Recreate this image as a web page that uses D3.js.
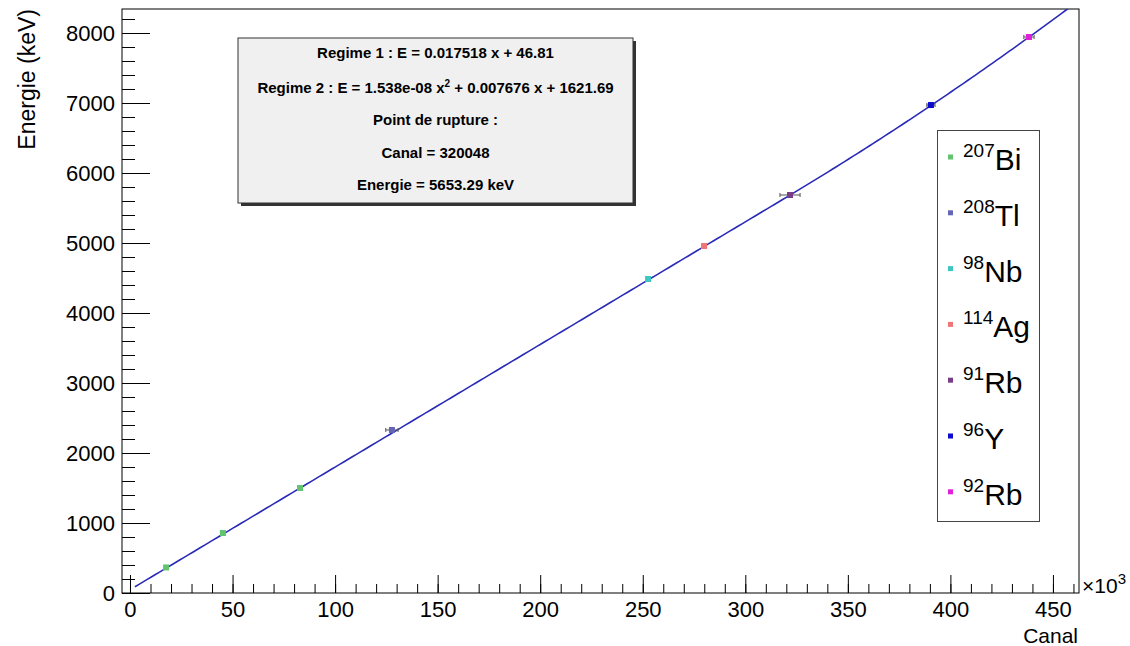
<!DOCTYPE html>
<html>
<head>
<meta charset="utf-8">
<script src="https://cdn.jsdelivr.net/npm/d3@7"></script>
<style>
  body { margin: 0; background: #fff; }
  svg { display: block; font-family: "Liberation Sans", Arial, sans-serif; }
</style>
</head>
<body>
<svg width="1130" height="646"></svg>
<script>
// isotopes, canal (x1000) and energy (keV)
var isotopes = ["207", "208", "98", "114", "91", "96", "92"];
var elements = ["Bi", "Tl", "Nb", "Ag", "Rb", "Y", "Rb"];
var colors = ["#62c46e", "#6565b8", "#3ec6c2", "#f07676", "#7a3e88", "#0a0ad0", "#e020dc"];
var pointIso = [0, 0, 0, 1, 2, 3, 4, 5, 6];
var canal = [17.6, 45.3, 82.9, 127.7, 252.6, 279.9, 321.8, 390.5, 438.3];
var energy = [365, 857, 1500, 2329, 4486, 4957, 5686, 6971, 7943];
var canalErr = [0.8, 0.8, 0.8, 3.0, 1.0, 1.2, 4.9, 2.0, 2.5];

// fit coefficients shown in the box
var regime1 = [0.017518, 46.81];
var regime2 = [1.538e-08, 0.007676, 1621.69];
var rupture = [320048, 5653.29];

var xTicks = d3.range(0, 451, 50);
var yTicks = d3.range(0, 8001, 1000);

var svg = d3.select("svg"),
  plotL = 122,
  plotR = 1079,
  plotT = 9,
  plotB = 593;

var x = d3.scaleLinear().domain([-3.9, 462.7]).range([plotL, plotR]),
  y = d3.scaleLinear().domain([0, 8343]).range([plotB, plotT]);

svg.append("defs").append("clipPath").attr("id", "plot")
  .append("rect")
  .attr("x", plotL).attr("y", plotT)
  .attr("width", plotR - plotL).attr("height", plotB - plotT);

// minor ticks
svg.append("g")
  .attr("transform", "translate(0," + plotB + ")")
  .call(d3.axisBottom(x).tickValues(d3.range(0, 461, 10)).tickSize(-9).tickFormat(""))
  .call((g) => g.select(".domain").remove());
svg.append("g")
  .attr("transform", "translate(" + plotL + ",0)")
  .call(d3.axisLeft(y).tickValues(d3.range(0, 8301, 200)).tickSize(-13).tickFormat(""))
  .call((g) => g.select(".domain").remove());

// major ticks
var xAxis = svg.append("g")
  .attr("transform", "translate(0," + plotB + ")")
  .call(d3.axisBottom(x).tickValues(xTicks).tickSize(-18).tickPadding(8).tickFormat(d3.format("d")));
var yAxis = svg.append("g")
  .attr("transform", "translate(" + plotL + ",0)")
  .call(d3.axisLeft(y).tickValues(yTicks).tickSize(-28).tickPadding(7).tickFormat(d3.format("d")));

[xAxis, yAxis].forEach((g) => {
  g.select(".domain").remove();
  g.selectAll("text")
    .style("font-family", "Liberation Sans, Arial, sans-serif")
    .style("font-size", "22px")
    .attr("fill", "#000");
});
svg.selectAll(".tick line").attr("stroke", "#000");

svg.append("rect")
  .attr("x", plotL).attr("y", plotT)
  .attr("width", plotR - plotL).attr("height", plotB - plotT)
  .attr("fill", "none")
  .attr("stroke", "#000");

// fit curve
var fit = function (k) {
  var c = k * 1000;
  if (c < rupture[0]) return regime1[0] * c + regime1[1];
  return regime2[0] * c * c + regime2[1] * c + regime2[2];
};
var fitX = d3.range(2.4, 463, 2);
var line = d3.line()
  .x((d) => x(d))
  .y((d) => y(fit(d)));
svg.append("path")
  .datum(fitX)
  .attr("clip-path", "url(#plot)")
  .attr("d", line)
  .style("fill", "none")
  .style("stroke", "#2a2ab8")
  .style("stroke-width", 1.6);

// points with error bars
var pts = canal.map((c, i) => ({ c: c, e: energy[i], err: canalErr[i], iso: pointIso[i] }));
var pg = svg.append("g");
pg.selectAll("line.err")
  .data(pts)
  .enter()
  .append("line")
  .attr("class", "err")
  .attr("x1", (d) => x(d.c - d.err))
  .attr("x2", (d) => x(d.c + d.err))
  .attr("y1", (d) => y(d.e))
  .attr("y2", (d) => y(d.e))
  .style("stroke", "#555");
pg.selectAll("path.cap")
  .data(pts.filter((d) => d.err > 1.5))
  .enter()
  .append("path")
  .attr("class", "cap")
  .attr("d", (d) =>
    "M" + x(d.c - d.err) + "," + (y(d.e) - 2) + "v4" +
    "M" + x(d.c + d.err) + "," + (y(d.e) - 2) + "v4")
  .style("stroke", "#555");
pg.selectAll("rect")
  .data(pts)
  .enter()
  .append("rect")
  .attr("x", (d) => x(d.c) - 3)
  .attr("y", (d) => y(d.e) - 3)
  .attr("width", 6)
  .attr("height", 6)
  .style("fill", (d) => colors[d.iso]);

// stats box
svg.append("rect")
  .attr("x", 241).attr("y", 41).attr("width", 395).attr("height", 165)
  .style("fill", "#333");
svg.append("rect")
  .attr("x", 238).attr("y", 38).attr("width", 395).attr("height", 165)
  .style("fill", "#f0f0f0")
  .style("stroke", "#333");

var box = svg.append("g")
  .style("font-size", "15px")
  .style("font-weight", "bold")
  .attr("text-anchor", "middle");
box.append("text").attr("x", 435.5).attr("y", 58)
  .text("Regime 1 : E = " + regime1[0] + " x + " + regime1[1]);
var t2 = box.append("text").attr("x", 435.5).attr("y", 93);
t2.append("tspan").text("Regime 2 : E = 1.538e-08 x");
t2.append("tspan").attr("dy", -6).style("font-size", "10px").text("2");
t2.append("tspan").attr("dy", 6).text(" + " + regime2[1] + " x + " + regime2[2]);
box.append("text").attr("x", 435.5).attr("y", 125).text("Point de rupture :");
box.append("text").attr("x", 435.5).attr("y", 158).text("Canal = " + rupture[0]);
box.append("text").attr("x", 435.5).attr("y", 190).text("Energie = " + rupture[1] + " keV");

// legend
svg.append("rect")
  .attr("x", 937.5).attr("y", 130.5).attr("width", 102).attr("height", 391)
  .style("fill", "#fff")
  .style("stroke", "#444");

var leg = svg.append("g")
  .selectAll("g")
  .data(isotopes)
  .enter()
  .append("g")
  .attr("transform", (d, i) => "translate(0," + (157 + i * 55.8) + ")");
leg.append("rect")
  .attr("x", 948).attr("y", -2.5)
  .attr("width", 5).attr("height", 5)
  .style("fill", (d, i) => colors[i]);
var lt = leg.append("text").attr("x", 963).attr("y", 0);
lt.append("tspan").style("font-size", "19px").text((d) => d);
lt.append("tspan").attr("dy", 13).style("font-size", "30px").text((d, i) => elements[i]);

// axis titles
svg.append("text")
  .attr("x", 1078).attr("y", 643)
  .attr("text-anchor", "end")
  .style("font-size", "21px")
  .text("Canal");
var mult = svg.append("text")
  .attr("x", 1082).attr("y", 593)
  .style("font-size", "21px");
mult.append("tspan").text("\u00d710");
mult.append("tspan").attr("dy", -9).style("font-size", "15px").text("3");

svg.append("text")
  .attr("text-anchor", "end")
  .attr("transform", "translate(35,9)rotate(-90)")
  .style("font-size", "23px")
  .text("Energie (keV)");
</script>
</body>
</html>
